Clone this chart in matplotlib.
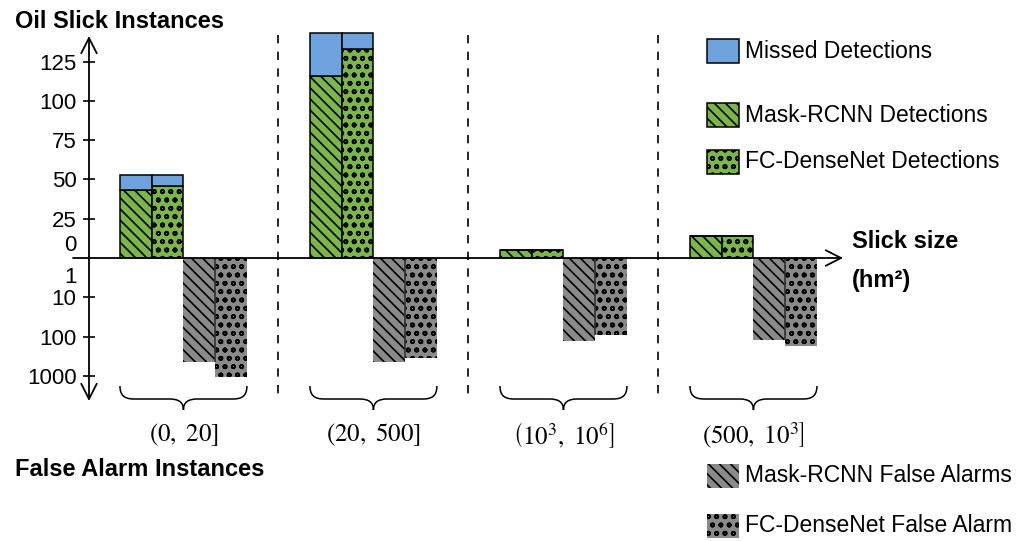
import numpy as np
import matplotlib.pyplot as plt
from matplotlib.patches import Rectangle, PathPatch
from matplotlib.path import Path
from matplotlib.ticker import NullLocator

plt.rcParams['font.family'] = ['Liberation Sans', 'DejaVu Sans']
plt.rcParams['mathtext.fontset'] = 'stix'
plt.rcParams['hatch.linewidth'] = 1.2

# data
size_bins = [r'$(0,\ 20]$', r'$(20,\ 500]$',
             r'$\left(10^3,\ 10^6\right]$', r'$\left(500,\ 10^3\right]$']
total_slicks = [53, 143, 5, 14]
mask_det = [43, 116, 5, 14]
fc_det = [46, 133, 5, 14]
mask_fa = [430, 430, 125, 120]
fc_fa = [1050, 340, 90, 170]

green = '#7ab648'
blue = '#6fa3de'
gray = '#8a8a8a'
diag = '\\\\\\'

W, H = 1021, 541
fig = plt.figure(figsize=(W / 100, H / 100), dpi=100)


def box(x0, y0, x1, y1):
    # pixel box (y downwards) -> figure fraction
    return [x0 / W, 1 - y1 / H, (x1 - x0) / W, (y1 - y0) / H]


ax_top = fig.add_axes(box(89, 38, 842, 258))
ax_bot = fig.add_axes(box(89, 258, 842, 400))

x = np.arange(len(size_bins))
w = 0.167
missed_mask = np.array(total_slicks) - np.array(mask_det)
missed_fc = np.array(total_slicks) - np.array(fc_det)

# detections (linear, upwards)
ax_top.bar(x + w / 2, mask_det, w, color=green, edgecolor='black', lw=1.1, hatch=diag, clip_on=False)
ax_top.bar(x + 1.5 * w, fc_det, w, color=green, edgecolor='black', lw=1.1, hatch='oo', clip_on=False)
ax_top.bar(x + w / 2, missed_mask, w, bottom=mask_det, color=blue, edgecolor='black', lw=1.1, clip_on=False)
ax_top.bar(x + 1.5 * w, missed_fc, w, bottom=fc_det, color=blue, edgecolor='black', lw=1.1, clip_on=False)

# false alarms (log, downwards)
ax_bot.bar(x + 2.5 * w, np.array(mask_fa) - 1, w, bottom=1, color=gray, edgecolor='black', lw=0, hatch=diag)
ax_bot.bar(x + 3.5 * w, np.array(fc_fa) - 1, w, bottom=1, color=gray, edgecolor='black', lw=0, hatch='oo')
ax_bot.vlines(x + 3 * w, 1, np.minimum(mask_fa, fc_fa), color='#333333', lw=1.2)

for ax in (ax_top, ax_bot):
    ax.set_xlim(-0.163, 3.8)
    ax.patch.set_visible(False)
    for s in ax.spines.values():
        s.set_visible(False)
    ax.set_xticks([])
    ax.tick_params(axis='y', direction='inout', length=8, width=1.2, pad=5, labelsize=16)

ax_top.set_ylim(0, 140)
ax_top.set_yticks([9.5, 25, 50, 75, 100, 125], ['0', '25', '50', '75', '100', '125'])
ax_top.yaxis.get_major_ticks()[0].tick1line.set_visible(False)

ax_bot.set_yscale('log')
ax_bot.set_ylim(3936, 1)
ax_bot.set_yticks([2.7, 10, 100, 1000], ['1', '10', '100', '1000'])
ax_bot.yaxis.set_minor_locator(NullLocator())
ax_bot.yaxis.get_major_ticks()[0].tick1line.set_visible(False)

# overlay in pixel coordinates for axes arrows, braces, legend
ov = fig.add_axes([0, 0, 1, 1])
ov.set_xlim(0, W)
ov.set_ylim(H, 0)
ov.axis('off')
ov.patch.set_visible(False)


def px(xd):
    return ax_top.transData.transform((xd, 1))[0]


arrow = dict(arrowstyle='->,head_length=0.55,head_width=0.28', lw=1.3, color='black',
             shrinkA=0, shrinkB=0, mutation_scale=20)
ov.annotate('', xy=(89, 36), xytext=(89, 259), arrowprops=arrow)
ov.annotate('', xy=(89, 401), xytext=(89, 257), arrowprops=arrow)
ov.annotate('', xy=(843, 258), xytext=(73, 258), arrowprops=arrow)

for i in range(len(size_bins) - 1):
    xd = px(i + 0.5 + 2 * w)
    ov.plot([xd, xd], [35, 400], color='black', lw=1.2, ls=(0, (5, 5)))

for i, lab in enumerate(size_bins):
    x0, x1, xm = px(i), px(i + 4 * w), px(i + 2 * w)
    verts = [(x0, 386), (x0, 395), (x0 + 4, 399), (x0 + 14, 399),
             (xm - 14, 399),
             (xm - 5, 399), (xm, 402), (xm, 410),
             (xm, 402), (xm + 5, 399), (xm + 14, 399),
             (x1 - 14, 399),
             (x1 - 4, 399), (x1, 395), (x1, 386)]
    codes = [Path.MOVETO, Path.CURVE4, Path.CURVE4, Path.CURVE4,
             Path.LINETO,
             Path.CURVE4, Path.CURVE4, Path.CURVE4,
             Path.CURVE4, Path.CURVE4, Path.CURVE4,
             Path.LINETO,
             Path.CURVE4, Path.CURVE4, Path.CURVE4]
    ov.add_patch(PathPatch(Path(verts, codes), fill=False, lw=1.1, edgecolor='black'))
    ov.text(xm, 435, lab, ha='center', va='center', fontsize=18)

ov.text(15, 22, 'Oil Slick Instances', fontsize=17, fontweight='bold', va='center')
ov.text(15, 470, 'False Alarm Instances', fontsize=17, fontweight='bold', va='center')
ov.text(852, 242, 'Slick size', fontsize=17, fontweight='bold', va='center')
ov.text(852, 280, '(hm²)', fontsize=17, fontweight='bold', va='center')

# legend
legend_items = [
    ('Missed Detections', blue, None, 51),
    ('Mask-RCNN Detections', green, diag, 115),
    ('FC-DenseNet Detections', green, 'oo', 162),
    ('Mask-RCNN False Alarms', gray, diag, 476),
    ('FC-DenseNet False Alarm', gray, 'oo', 526),
]
for label, fc, hatch, yc in legend_items:
    lw = 1.1 if fc != gray else 0
    ov.add_patch(Rectangle((707, yc - 12), 32, 24, facecolor=fc, edgecolor='black', lw=lw, hatch=hatch))
    ov.text(745, yc, label, fontsize=16.5, va='center')

fig.savefig('out.png', dpi=100)
